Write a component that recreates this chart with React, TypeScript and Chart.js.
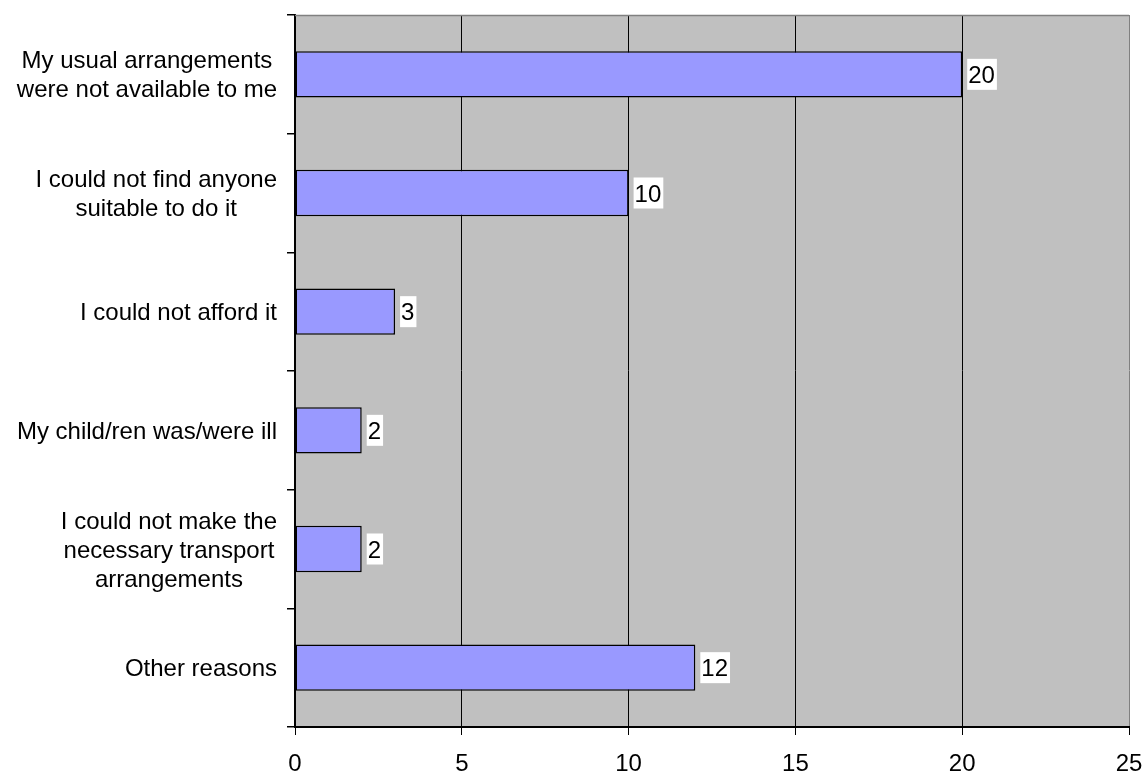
import React, { useEffect, useRef } from "react";
import { Chart, registerables } from "chart.js";

Chart.register(...registerables);

const categories: string[][] = [
  ["My usual arrangements", "were not available to me"],
  ["I could not find anyone", "suitable to do it"],
  ["I could not afford it"],
  ["My child/ren was/were ill"],
  ["I could not make the", "necessary transport", "arrangements"],
  ["Other reasons"],
];
const values: number[] = [20, 10, 3, 2, 2, 12];
const xTicks: number[] = [0, 5, 10, 15, 20, 25];

const FONT = "'Liberation Sans', Arial, sans-serif";
const FONT_SIZE = 24;
const LINE_PITCH = 29;

const bgPlugin = {
  id: "bgPlugin",
  beforeDraw(chart: any) {
    const { ctx, chartArea } = chart;
    ctx.save();
    ctx.fillStyle = "#C0C0C0";
    ctx.fillRect(chartArea.left, chartArea.top, chartArea.right - chartArea.left, chartArea.bottom - chartArea.top);
    ctx.restore();
  },
  afterDraw(chart: any) {
    const { ctx, chartArea } = chart;
    ctx.save();
    ctx.strokeStyle = "#808080";
    ctx.lineWidth = 1.5;
    ctx.beginPath();
    ctx.moveTo(chartArea.left, chartArea.top + 0.5);
    ctx.lineTo(chartArea.right, chartArea.top + 0.5);
    ctx.stroke();
    // category labels: block right-aligned, lines centred within block
    const yScale = chart.scales.y;
    ctx.font = `${FONT_SIZE}px ${FONT}`;
    ctx.fillStyle = "#000000";
    ctx.textAlign = "center";
    ctx.textBaseline = "middle";
    const rightEdge = chartArea.left - 18;
    categories.forEach((lines, i) => {
      const cy = yScale.getPixelForValue(i);
      const maxW = Math.max(...lines.map((l) => ctx.measureText(l).width));
      const cx = rightEdge - maxW / 2;
      lines.forEach((line, j) => {
        const y = cy + (j - (lines.length - 1) / 2) * LINE_PITCH + 2;
        ctx.fillText(line, cx, y);
      });
    });
    ctx.restore();
  },
};

const labelPlugin = {
  id: "valueLabels",
  afterDatasetsDraw(chart: any) {
    const { ctx } = chart;
    const meta = chart.getDatasetMeta(0);
    ctx.save();
    ctx.font = `${FONT_SIZE}px ${FONT}`;
    ctx.textBaseline = "middle";
    ctx.textAlign = "left";
    meta.data.forEach((bar: any, i: number) => {
      const text = String(values[i]);
      const w = ctx.measureText(text).width;
      const x0 = bar.x + 5;
      const h = 31;
      ctx.fillStyle = "#FFFFFF";
      ctx.fillRect(x0, bar.y - h / 2, w + 3, h);
      ctx.fillStyle = "#000000";
      ctx.fillText(text, x0 + 1, bar.y + 2);
    });
    ctx.restore();
  },
};

const zeroPad = (scale: any) => {
  scale.paddingTop = 0;
  scale.paddingBottom = 0;
  scale.paddingLeft = 0;
  scale.paddingRight = 0;
};

export default function App() {
  const ref = useRef<HTMLCanvasElement | null>(null);
  useEffect(() => {
    if (!ref.current) return;
    const chart = new Chart(ref.current, {
      type: "bar",
      data: {
        labels: categories,
        datasets: [
          {
            data: values,
            backgroundColor: "#9999FF",
            borderColor: "#000000",
            borderWidth: 1.5,
            borderSkipped: false,
            categoryPercentage: 1,
            barPercentage: 0.39,
          },
        ],
      },
      options: {
        indexAxis: "y",
        responsive: false,
        animation: false,
        layout: { padding: { top: 15, right: 15, left: 0, bottom: 0 } },
        plugins: {
          legend: { display: false },
          tooltip: { enabled: false },
        },
        scales: {
          x: {
            type: "linear",
            min: 0,
            max: 25,
            afterBuildTicks: (scale: any) => {
              scale.ticks = xTicks.map((v) => ({ value: v }));
            },
            afterFit: (scale: any) => {
              scale.height = 45;
              zeroPad(scale);
            },
            ticks: {
              color: "#000000",
              font: { family: FONT, size: FONT_SIZE },
              padding: 15,
              maxRotation: 0,
            },
            grid: {
              color: (c: any) => (c.tick && c.tick.value === 25 ? "#808080" : "#000000"),
              tickColor: "#000000",
              lineWidth: 1,
              tickLength: 8,
              drawTicks: true,
            },
            border: { display: true, color: "#000000", width: 2 },
          },
          y: {
            type: "category",
            afterFit: (scale: any) => {
              scale.width = 295;
              zeroPad(scale);
            },
            ticks: {
              color: "rgba(0,0,0,0)",
              font: { family: FONT, size: FONT_SIZE, lineHeight: 1.2 },
              padding: 10,
              autoSkip: false,
            },
            grid: {
              offset: true,
              drawOnChartArea: false,
              drawTicks: true,
              tickLength: 8,
              color: "#000000",
              lineWidth: 1.5,
            },
            border: { display: true, color: "#000000", width: 2 },
          },
        },
      } as any,
      plugins: [bgPlugin, labelPlugin],
    });
    return () => chart.destroy();
  }, []);
  return (
    <div style={{ position: "absolute", left: 0, top: 0, width: 1144, height: 772, background: "#fff" }}>
      <canvas ref={ref} width={1144} height={772} />
    </div>
  );
}
